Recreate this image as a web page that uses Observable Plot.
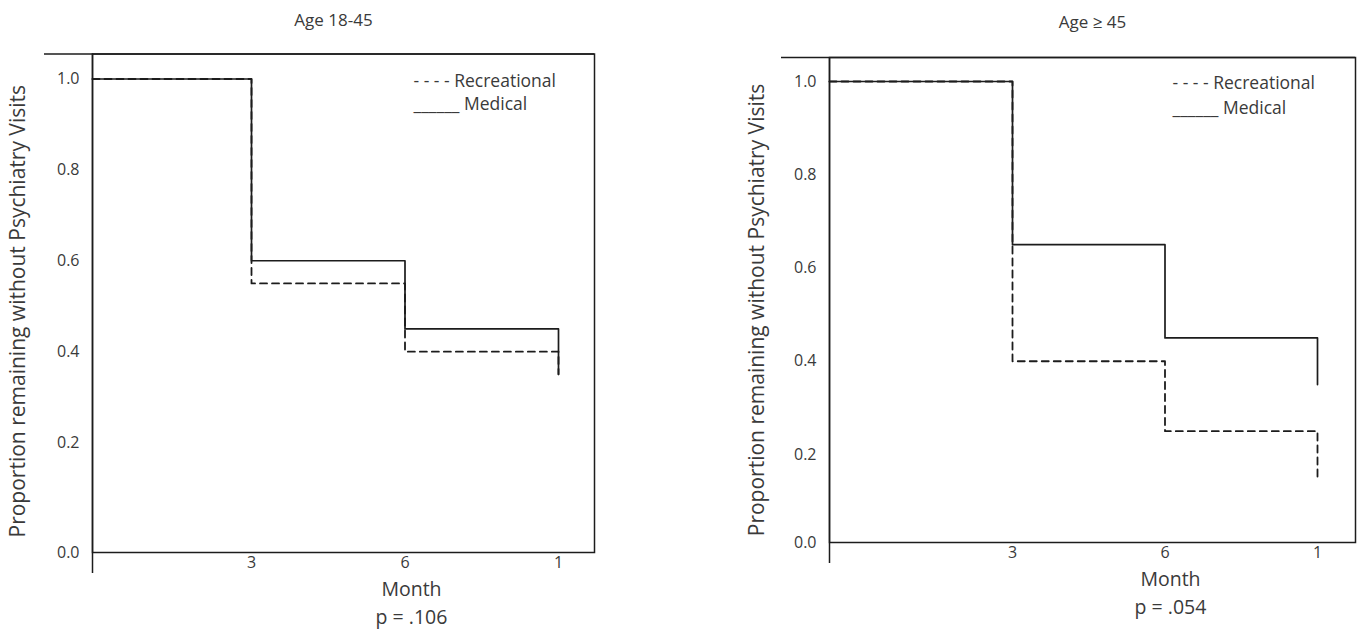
<!DOCTYPE html>
<html>
<head>
<meta charset="utf-8">
<script src="https://cdn.jsdelivr.net/npm/d3@7"></script>
<script src="https://cdn.jsdelivr.net/npm/@observablehq/plot@0.6"></script>
<style>
  html, body { margin: 0; padding: 0; background: #fff; }
  #wrap { display: flex; width: 1360px; height: 633px; }
  #wrap svg { display: block; background: #fff; overflow: visible; }
</style>
</head>
<body>
<div id="wrap"></div>
<script>
// ---- data ----
const months = [0, 3, 6, 9];
const youngMedical = [1.0, 0.60, 0.45, 0.35];
const youngRecreational = [1.0, 0.55, 0.40, 0.35];
const olderMedical = [1.0, 0.65, 0.45, 0.35];
const olderRecreational = [1.0, 0.40, 0.25, 0.15];
const xTickValues = [3, 6, 9];
const xTickLabels = ["3", "6", "1"];
const yTickValues = [0, 0.2, 0.4, 0.6, 0.8, 1.0];
const panelTitles = ["Age 18-45", "Age \u2265 45"];
const pValues = ["p = .106", "p = .054"];
const xLabel = "Month";
const yLabel = "Proportion remaining without Psychiatry Visits";
const legendLabels = ["- - - - Recreational", "______ Medical"];

function rows(values) {
  return months.map((m, i) => ({month: m, value: values[i]}));
}

const FONT = "'Open Sans', 'DejaVu Sans', sans-serif";
const INK = "#1c1c1c";
const TEXT = "#3a3a3a";

function panel(cfg) {
  const tickLabel = d => xTickLabels[xTickValues.indexOf(d)];
  return Plot.plot({
    width: 680,
    height: 633,
    marginLeft: cfg.ml, marginRight: cfg.mr, marginTop: cfg.mt, marginBottom: cfg.mb,
    style: {fontFamily: FONT, background: "#fff", color: TEXT},
    x: {type: "linear", domain: [0, 3, 9], range: cfg.xRange},
    y: {type: "linear", domain: [0, 0.2, 1.0], range: cfg.yRange},
    marks: [
      Plot.frame({stroke: INK, strokeWidth: 1.5}),
      Plot.ruleX([0], {stroke: INK, strokeWidth: 1.5, insetBottom: -21}),
      Plot.ruleY([1.0], {stroke: INK, strokeWidth: 1.5, insetLeft: -48, dy: -cfg.topGap}),
      Plot.axisY({ticks: yTickValues, tickFormat: d3.format(".1f"), tickSize: 0, tickPadding: 13,
                  fontSize: 16, fill: TEXT, label: null}),
      Plot.axisX({ticks: xTickValues, tickFormat: tickLabel, tickSize: 0, tickPadding: 4,
                  fontSize: 16, fill: TEXT, label: null}),
      Plot.line(rows(cfg.rec), {x: "month", y: "value", curve: "step-after",
                  stroke: INK, strokeWidth: 1.8, strokeDasharray: "7,5"}),
      Plot.line(rows(cfg.med), {x: "month", y: "value", curve: "step-after",
                  stroke: INK, strokeWidth: 1.7}),
      Plot.text([cfg.title], {text: d => d, frameAnchor: "top", dx: cfg.titleDx, dy: cfg.titleDy,
                  fontSize: 17, fill: TEXT, lineAnchor: "middle"}),
      Plot.text([xLabel], {text: d => d, frameAnchor: "bottom", dx: cfg.monthDx, dy: cfg.monthDy,
                  fontSize: 19.5, fill: TEXT, lineAnchor: "middle"}),
      Plot.text([cfg.p], {text: d => d, frameAnchor: "bottom", dx: cfg.monthDx, dy: cfg.monthDy + 28,
                  fontSize: 19.5, fill: TEXT, lineAnchor: "middle"}),
      Plot.text([yLabel], {text: d => d, frameAnchor: "left", rotate: -90, dx: cfg.ylabDx, dy: cfg.ylabDy,
                  textAnchor: "middle", fontSize: 21, fill: TEXT, lineAnchor: "middle"}),
      Plot.text([legendLabels[0]], {text: d => d, frameAnchor: "top-left", dx: cfg.legDx, dy: cfg.legDy1,
                  textAnchor: "start", lineAnchor: "middle", fontSize: 17.5, fill: TEXT}),
      Plot.text([legendLabels[1]], {text: d => d, frameAnchor: "top-left", dx: cfg.legDx, dy: cfg.legDy2,
                  textAnchor: "start", lineAnchor: "middle", fontSize: 17.5, fill: TEXT})
    ]
  });
}

const left = panel({
  ml: 92, mr: 86, mt: 53.5, mb: 81,
  xRange: [92, 251, 558], yRange: [552, 442, 78.5], topGap: 25,
  med: youngMedical, rec: youngRecreational,
  title: panelTitles[0], p: pValues[0],
  titleDx: -10, titleDy: -33.5,
  monthDx: 68, monthDy: 37,
  ylabDx: -74, ylabDy: 8,
  legDx: 321, legDy1: 27.5, legDy2: 50.5
});
const right = panel({
  ml: 149, mr: 5, mt: 57, mb: 91,
  xRange: [149, 332, 637], yRange: [542, 454, 81], topGap: 24,
  med: olderMedical, rec: olderRecreational,
  title: panelTitles[1], p: pValues[1],
  titleDx: 0, titleDy: -35,
  monthDx: 78, monthDy: 37,
  ylabDx: -72, ylabDy: 10,
  legDx: 343, legDy1: 26, legDy2: 51
});
document.getElementById("wrap").append(left, right);
</script>
</body>
</html>
